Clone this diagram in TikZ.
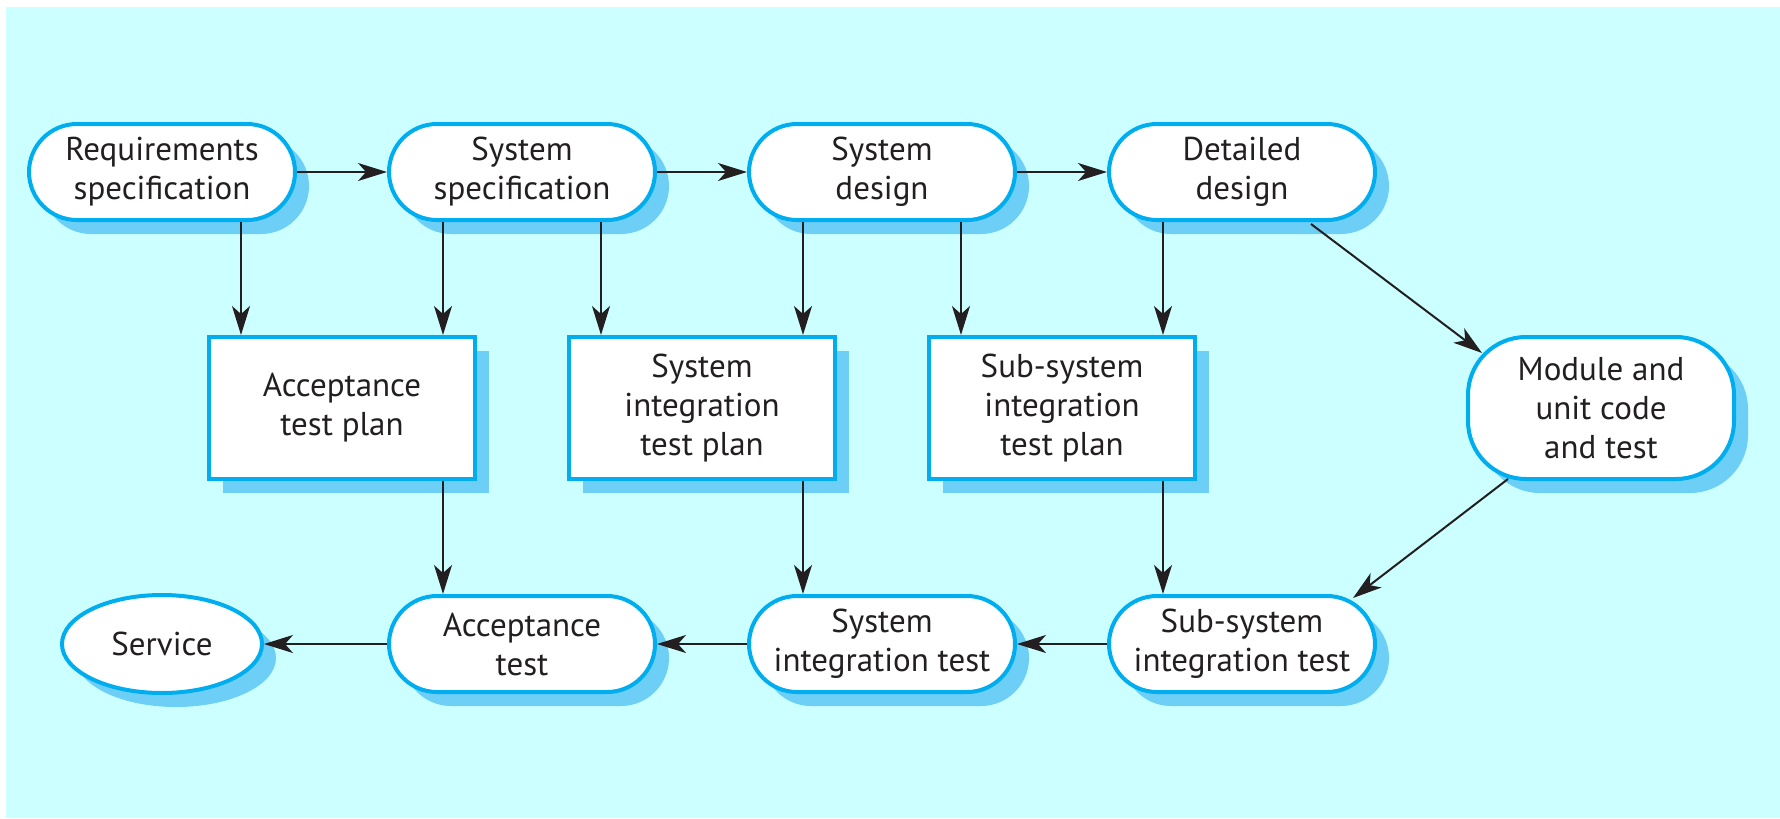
\documentclass[tikz,border=0pt]{standalone}
\usepackage{fontspec}
\setmainfont{PT Sans}
\usetikzlibrary{arrows.meta,shapes.geometric,shadows,calc}
\definecolor{bgc}{HTML}{CCFFFF}
\definecolor{bord}{HTML}{00AEEF}
\definecolor{shad}{HTML}{6DCFF6}
\definecolor{ink}{HTML}{231F20}
\begin{document}
\begin{tikzpicture}[x=1pt,y=-1pt,
  base/.style={draw=bord, line width=4pt, fill=white, text=ink, align=center, inner sep=0pt,
    font=\fontsize{33}{39}\selectfont,
    drop shadow={shadow xshift=14pt, shadow yshift=-14pt, fill=shad, opacity=1}},
  pill/.style={base, rounded corners=48pt, minimum width=266pt, minimum height=96pt},
  plan/.style={base, minimum width=266pt, minimum height=142pt},
  modbox/.style={base, rounded corners=58pt, minimum width=266pt, minimum height=142pt},
  oval/.style={base, ellipse, minimum width=200pt, minimum height=98pt},
  arr/.style={draw=ink, line width=2pt, -{Stealth[length=29pt, width=18pt, inset=8pt]}}
]
\path[fill=white] (0,0) rectangle (1780,819);
\fill[bgc] (6,7) rectangle (1780,818);

\node[pill] (req) at (162,172) {Requirements\\specification};
\node[pill] (ss) at (522,172) {System\\specification};
\node[pill] (sd) at (882,172) {System\\design};
\node[pill] (dd) at (1242,172) {Detailed\\design};

\node[plan] (atp) at (342,408) {Acceptance\\test plan};
\node[plan] (sitp) at (702,408) {System\\integration\\test plan};
\node[plan] (ssitp) at (1062,408) {Sub-system\\integration\\test plan};
\node[modbox] (mod) at (1601,408) {Module and\\unit code\\and test};

\node[oval] (svc) at (162,644) {Service};
\node[pill] (at) at (522,644) {Acceptance\\test};
\node[pill] (sit) at (882,644) {System\\integration test};
\node[pill] (ssit) at (1242,644) {Sub-system\\integration test};

\draw[arr] (req.east) -- (ss.west);
\draw[arr] (ss.east) -- (sd.west);
\draw[arr] (sd.east) -- (dd.west);

\draw[arr] ($(req.south)+(79,0)$) -- ($(atp.north)+(-101,0)$);
\draw[arr] ($(ss.south)+(-79,0)$) -- ($(atp.north)+(101,0)$);
\draw[arr] ($(ss.south)+(79,0)$) -- ($(sitp.north)+(-101,0)$);
\draw[arr] ($(sd.south)+(-79,0)$) -- ($(sitp.north)+(101,0)$);
\draw[arr] ($(sd.south)+(79,0)$) -- ($(ssitp.north)+(-101,0)$);
\draw[arr] ($(dd.south)+(-79,0)$) -- ($(ssitp.north)+(101,0)$);

\draw[arr] ($(dd.center)+(69,52)$) -- ($(mod.center)+(-119,-55)$);
\draw[arr] ($(mod.center)+(-93,71)$) -- ($(ssit.center)+(111,-46)$);

\draw[arr] ($(atp.south)+(101,0)$) -- ($(at.north)+(-79,0)$);
\draw[arr] ($(sitp.south)+(101,0)$) -- ($(sit.north)+(-79,0)$);
\draw[arr] ($(ssitp.south)+(101,0)$) -- ($(ssit.north)+(-79,0)$);

\draw[arr] (at.west) -- (svc.east);
\draw[arr] (sit.west) -- (at.east);
\draw[arr] (ssit.west) -- (sit.east);
\end{tikzpicture}
\end{document}
